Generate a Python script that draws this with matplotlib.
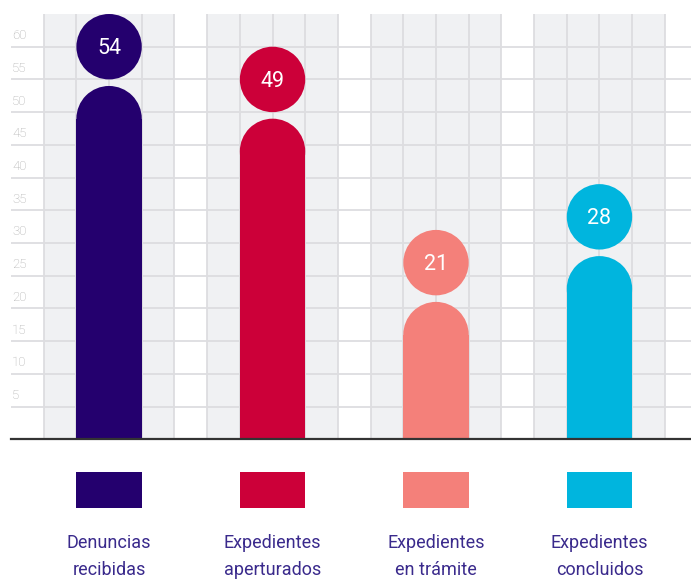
import matplotlib.pyplot as plt
from matplotlib.patches import Rectangle, Ellipse

categories = ['Denuncias\nrecibidas', 'Expedientes\naperturados',
              'Expedientes\nen trámite', 'Expedientes\nconcluidos']
values = [54, 49, 21, 28]
colors = ['#24006e', '#cc0039', '#f4807a', '#00b5de']
yticks = [5, 10, 15, 20, 25, 30, 35, 40, 45, 50, 55, 60]

plt.rcParams['font.family'] = ['Roboto', 'DejaVu Sans']

fig = plt.figure(figsize=(6.91, 5.85), dpi=100)
# axes: baseline at y=439px, top at 14px, left at 11px
ax = fig.add_axes([11 / 691, 145.7 / 585, 680 / 691, 425.3 / 585])
ax.set_xlim(-1, 19.8)
ax.set_ylim(0, 65)
ax.axis('off')

# background bands and grid
for start in range(0, 20, 5):
    ax.axvspan(start, start + 4, color='#f0f1f3', zorder=0, lw=0)
for xv in range(0, 20):
    ax.plot([xv, xv], [0, 65], color='#dddde0', lw=1.3, zorder=1)
for yv in yticks:
    ax.plot([-1, 19.8], [yv, yv], color='#dddde0', lw=1.3, zorder=1)
    ax.text(-0.97, yv + 1.7, str(yv), ha='left', va='center',
            fontsize=9.5, color='#aaaaaa', fontweight='light')
ax.plot([-1, 19.8], [0, 0], color='#333333', lw=1.6, zorder=5, clip_on=False)

for i, (val, col, cat) in enumerate(zip(values, colors, categories)):
    xc = 2 + 5 * i
    # rounded bar: rectangle + semicircle top (1 cell = 5 units on screen)
    ax.add_patch(Rectangle((xc - 1, 0), 2, val - 5, color=col, lw=0, zorder=3))
    ax.add_patch(Ellipse((xc, val - 5), 2, 10, color=col, lw=0, zorder=3))
    # value bubble
    ax.add_patch(Ellipse((xc, val + 6), 2, 10, color=col, lw=0, zorder=3,
                         clip_on=False))
    ax.text(xc, val + 5.7, str(val), ha='center', va='center', color='white',
            fontsize=15.5, zorder=4)
    # legend swatch and label
    ax.add_patch(Rectangle((xc - 1, -10.5), 2, 5.5, color=col, lw=0,
                           clip_on=False))
    ax.text(xc, -17.9, cat, ha='center', va='center', color='#3a2a8c',
            fontsize=13, linespacing=1.6, clip_on=False)

fig.savefig('out.png', dpi=100)
